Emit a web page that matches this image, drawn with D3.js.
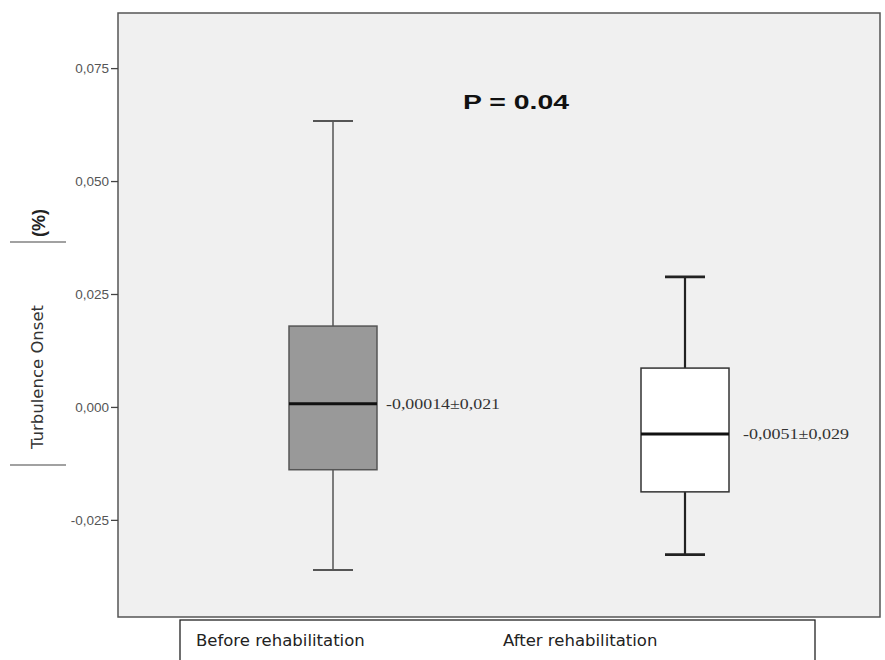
<!DOCTYPE html>
<html>
<head>
<meta charset="utf-8">
<script src="https://cdn.jsdelivr.net/npm/d3@7"></script>
<style>
  body { margin: 0; background: #fff; }
  svg { display: block; }
</style>
</head>
<body>
<div id="container"></div>
<script>
// data
var groups = ["Before rehabilitation", "After rehabilitation"];
var whisker_hi = [0.0633, 0.0288];
var q3 = [0.0179, 0.0086];
var medians = [0.0007, -0.0060];
var q1 = [-0.0139, -0.0188];
var whisker_lo = [-0.0361, -0.0327];
var notes = ["-0,00014\u00b10,021", "-0,0051\u00b10,029"];
var tick_values = [-0.025, 0, 0.025, 0.05, 0.075];
var p_label = "P = 0.04";

var W = 885, H = 660;
var plot = {left: 118, right: 880, top: 13, bottom: 617};

var svg = d3.select("#container").append("svg")
    .attr("width", W).attr("height", H);

var y = d3.scaleLinear()
    .domain([-0.0465, 0.0872])
    .range([plot.bottom, plot.top]);

var x = d3.scalePoint()
    .domain(groups)
    .range([333, 685]);

var box_w = 88, cap_w = 40;

// plot background
svg.append("rect")
    .attr("x", plot.left).attr("y", plot.top)
    .attr("width", plot.right - plot.left)
    .attr("height", plot.bottom - plot.top)
    .attr("fill", "#f0f0f0")
    .attr("stroke", "#555")
    .attr("stroke-width", 1.5);

// y axis
var fmt = function(d){ return d3.format(".3f")(d).replace(".", ",").replace("\u2212", "-"); };
var yAxis = svg.append("g")
    .attr("transform", "translate(" + plot.left + ",0)")
    .call(d3.axisLeft(y).tickValues(tick_values).tickSize(7).tickPadding(2).tickFormat(fmt));
yAxis.select(".domain").remove();
yAxis.selectAll(".tick line").attr("stroke", "#444").attr("stroke-width", 1.3);
yAxis.selectAll(".tick text")
    .attr("fill", "#555")
    .style("font-family", "Arial, 'Liberation Sans', sans-serif")
    .style("font-size", "13.5px");

// boxes
var style = [
    {fill: "#999999", stroke: "#555", ws: "#555", wsw: 1.5, gap: 9, note_w: 114},
    {fill: "#ffffff", stroke: "#333", ws: "#222", wsw: 2.2, gap: 14, note_w: 106}
];

groups.forEach(function(g, i){
    var cx = x(g);
    var s = style[i];
    var gg = svg.append("g").attr("class", "box");

    // whiskers
    gg.append("line")
        .attr("x1", cx).attr("x2", cx)
        .attr("y1", y(whisker_hi[i])).attr("y2", y(q3[i]))
        .attr("stroke", s.ws).attr("stroke-width", s.wsw);
    gg.append("line")
        .attr("x1", cx).attr("x2", cx)
        .attr("y1", y(q1[i])).attr("y2", y(whisker_lo[i]))
        .attr("stroke", s.ws).attr("stroke-width", s.wsw);
    [whisker_hi[i], whisker_lo[i]].forEach(function(v){
        gg.append("line")
            .attr("x1", cx - cap_w / 2).attr("x2", cx + cap_w / 2)
            .attr("y1", y(v)).attr("y2", y(v))
            .attr("stroke", s.ws).attr("stroke-width", s.wsw + 0.5);
    });

    gg.append("rect")
        .attr("x", cx - box_w / 2)
        .attr("y", y(q3[i]))
        .attr("width", box_w)
        .attr("height", y(q1[i]) - y(q3[i]))
        .attr("fill", s.fill)
        .attr("stroke", s.stroke)
        .attr("stroke-width", 1.5);

    gg.append("line")
        .attr("x1", cx - box_w / 2).attr("x2", cx + box_w / 2)
        .attr("y1", y(medians[i])).attr("y2", y(medians[i]))
        .attr("stroke", "#111").attr("stroke-width", 3);

    gg.append("text")
        .attr("x", cx + box_w / 2 + s.gap)
        .attr("y", y(medians[i]) + 5)
        .attr("fill", "#333")
        .attr("textLength", s.note_w)
        .attr("lengthAdjust", "spacingAndGlyphs")
        .style("font-family", "'Liberation Serif', 'Times New Roman', serif")
        .style("font-size", "15px")
        .text(notes[i]);
});

// p value
svg.append("text")
    .attr("x", 463).attr("y", 109)
    .attr("textLength", 106)
    .attr("lengthAdjust", "spacingAndGlyphs")
    .style("font-family", "Arial, 'Liberation Sans', sans-serif")
    .style("font-weight", "bold")
    .style("font-size", "21px")
    .attr("fill", "#111")
    .text(p_label);

// y title
var yt = svg.append("g");
yt.append("text")
    .attr("transform", "translate(43,377) rotate(-90)")
    .attr("text-anchor", "middle")
    .style("font-family", "'DejaVu Sans', sans-serif")
    .style("font-size", "16.5px")
    .attr("fill", "#333")
    .text("Turbulence Onset");
yt.append("text")
    .attr("transform", "translate(45,223) rotate(-90)")
    .attr("text-anchor", "middle")
    .style("font-family", "Arial, 'Liberation Sans', sans-serif")
    .style("font-weight", "bold")
    .style("font-size", "18px")
    .attr("fill", "#222")
    .text("(%)");
[242, 465].forEach(function(yy){
    yt.append("line")
        .attr("x1", 10).attr("x2", 66)
        .attr("y1", yy).attr("y2", yy)
        .attr("stroke", "#444").attr("stroke-width", 1.2);
});

// category label box
var lb = svg.append("g");
lb.append("rect")
    .attr("x", 180).attr("y", 620)
    .attr("width", 635).attr("height", 60)
    .attr("fill", "#fff")
    .attr("stroke", "#222")
    .attr("stroke-width", 1.3);
var label_x = [196, 503];
groups.forEach(function(g, i){
    lb.append("text")
        .attr("x", label_x[i]).attr("y", 646)
        .style("font-family", "'DejaVu Sans', sans-serif")
        .style("font-size", "16.5px")
        .attr("fill", "#222")
        .text(g);
});
</script>
</body>
</html>
